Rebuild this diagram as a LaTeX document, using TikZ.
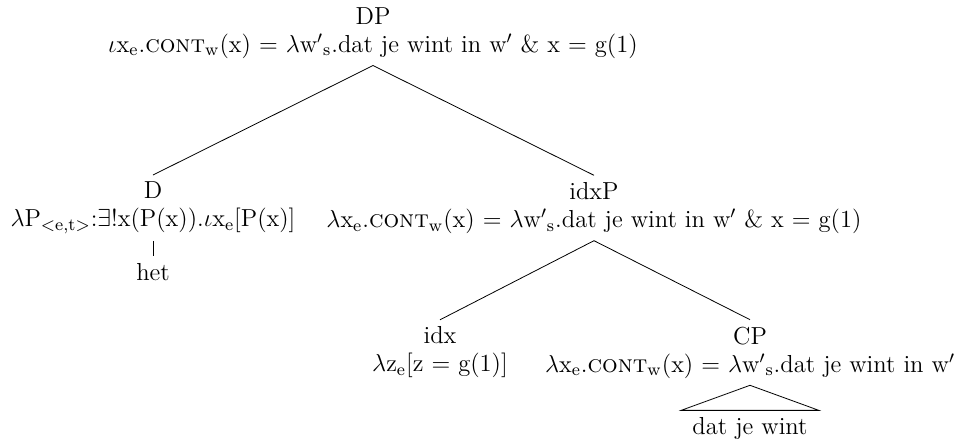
\documentclass[tikz,border=0pt]{standalone}
\usepackage{fix-cm}
\usetikzlibrary{trees}
\begin{document}
\begin{tikzpicture}[
    font=\fontsize{12.3}{14}\selectfont,
    level 1/.style={grow via three points={one child at (0,-87.5pt) and two children at (-110pt,-87.5pt) and (110.5pt,-87.5pt)}},
    level 2/.style={grow via three points={one child at (0,-32pt) and two children at (-77pt,-72.25pt) and (78pt,-72.25pt)}},
    level 3/.style={grow via three points={one child at (0,-38pt) and two children at (0,0) and (0,0)}},
    edge from parent/.style={draw, thin},
    parent anchor=south, child anchor=north,
    roof/.style={edge from parent path={(\tikzparentnode.south) -- (\tikzchildnode.north west) -- (\tikzchildnode.north east) -- cycle}},
    cat/.style={align=center},
    leaf/.style={inner xsep=5.5pt}
]
\useasboundingbox[fill=white] (0,0) rectangle (479.5pt,-221pt);
\node[cat] (dp) at (186.5pt,-16.5pt) {DP\\$\iota$x$_\mathrm{e}$.\textsc{cont}$_\mathrm{w}$(x) $=$ $\lambda$w$'{}_\mathrm{s}$.dat je wint in w$'$ \& x $=$ g(1)}
    child { node[cat] (d) {D\\$\lambda$P$_{<\mathrm{e,t}>}$:$\exists$!x(P(x)).$\iota$x$_\mathrm{e}$[P(x)]}
        child { node[leaf] (het) {het} }
    }
    child { node[cat] (idxp) {idxP\\$\lambda$x$_\mathrm{e}$.\textsc{cont}$_\mathrm{w}$(x) $=$ $\lambda$w$'{}_\mathrm{s}$.dat je wint in w$'$ \& x $=$ g(1)}
        child { node[cat] (idx) {idx\\$\lambda$z$_\mathrm{e}$[z $=$ g(1)]} }
        child { node[cat] (cp) {CP\\$\lambda$x$_\mathrm{e}$.\textsc{cont}$_\mathrm{w}$(x) $=$ $\lambda$w$'{}_\mathrm{s}$.dat je wint in w$'$}
            child[roof] { node[leaf] (dat) {dat je wint} }
        }
    };
\end{tikzpicture}
\end{document}
